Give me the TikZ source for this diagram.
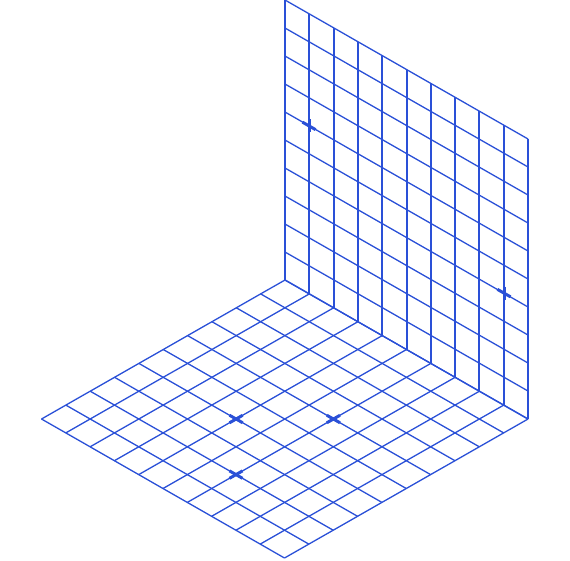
\documentclass[tikz,border=0pt]{standalone}
\definecolor{gridblue}{RGB}{42,80,215}
\tikzset{
  gridline/.style={draw=gridblue, line width=1.3pt},
  marker/.style={draw=gridblue, line width=3pt}
}
\begin{document}
\begin{tikzpicture}[x=1pt,y=-1pt]
\useasboundingbox (0,0) rectangle (570,560);
% basis: O = front vertex, u = left step, v = right step
\def\Ox{284.5}\def\Oy{558}
\def\ux{-24.3}\def\uy{-13.9}
\def\vx{24.35}\def\vy{-13.9}
\def\wh{28}
\coordinate (O) at (\Ox,\Oy);
\coordinate (B) at ({\Ox+10*\ux+10*\vx},{\Oy+10*\uy+10*\vy});
% floor grid
\foreach \k in {0,...,10}{
  \draw[gridline] ({\Ox+\k*\ux},{\Oy+\k*\uy}) -- ({\Ox+\k*\ux+10*\vx},{\Oy+\k*\uy+10*\vy});
  \draw[gridline] ({\Ox+\k*\vx},{\Oy+\k*\vy}) -- ({\Ox+\k*\vx+10*\ux},{\Oy+\k*\vy+10*\uy});
}
% wall grid (plane through back-right floor edge, spanned by -u and vertical)
\foreach \k in {0,...,10}{
  \pgfmathsetmacro{\vxk}{round(\Ox+10*\ux+10*\vx-\k*\ux)}
  \pgfmathsetmacro{\vyk}{\Oy+10*\uy+10*\vy-\k*\uy}
  \draw[gridline] (\vxk,\vyk) -- (\vxk,{\vyk-10*\wh});
  \draw[gridline] ([shift={(0,{-\k*\wh})}]B) -- ([shift={({-10*\ux},{-10*\uy-\k*\wh})}]B);
}
% floor markers
\foreach \i/\j in {6/4,4/6,4/2}{
  \coordinate (P) at ({\Ox+\i*\ux+\j*\vx},{\Oy+\i*\uy+\j*\vy});
  \draw[marker] ([shift={({0.27*\ux},{0.27*\uy})}]P) -- ([shift={({-0.27*\ux},{-0.27*\uy})}]P);
  \draw[marker] ([shift={({0.27*\vx},{0.27*\vy})}]P) -- ([shift={({-0.27*\vx},{-0.27*\vy})}]P);
}
% wall markers
\foreach \a/\b in {1/6,9/4}{
  \pgfmathsetmacro{\mx}{round(\Ox+10*\ux+10*\vx-\a*\ux)}
  \coordinate (P) at (\mx,{\Oy+10*\uy+10*\vy-\a*\uy-\b*\wh});
  \draw[marker] ([shift={(0,-6.5)}]P) -- ([shift={(0,6.5)}]P);
  \draw[marker] ([shift={({0.27*\ux},{0.27*\uy})}]P) -- ([shift={({-0.27*\ux},{-0.27*\uy})}]P);
}
\end{tikzpicture}
\end{document}
